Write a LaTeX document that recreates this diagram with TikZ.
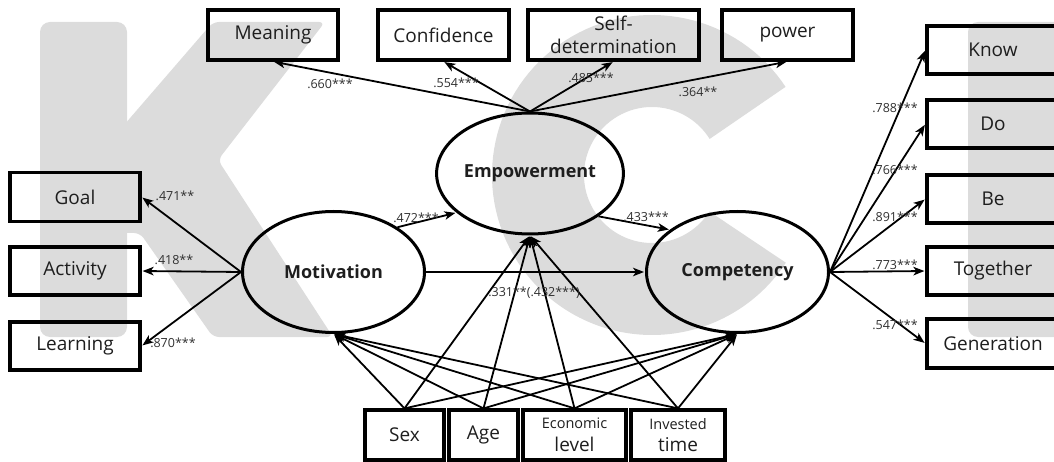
\documentclass[tikz,border=0pt]{standalone}
\usepackage{fontspec}
\setmainfont{Open Sans}
\usetikzlibrary{shapes.geometric,arrows.meta}
\definecolor{wmgray}{HTML}{DCDCDC}
\definecolor{ink}{HTML}{1E1E1E}
\definecolor{coef}{HTML}{303030}
\begin{document}
\begin{tikzpicture}[x=1pt,y=-1pt,
  box/.style={draw=black, line width=3.2pt, inner sep=0pt, text=ink,
    font=\fontsize{19}{23.5}\selectfont, align=center, minimum height=50pt},
  latent/.style={ellipse, draw=black, line width=3pt, minimum width=182pt,
    minimum height=121pt, inner sep=0pt, text=ink,
    font=\bfseries\fontsize{18}{22}\selectfont},
  arr/.style={-{Stealth[length=11pt,width=8.5pt,inset=3pt]}, line width=1.8pt, shorten >=1pt},
  coefl/.style={font=\fontsize{12.5}{14}\selectfont, text=coef, inner sep=0pt},
  wm/.style={fill=wmgray}]

\useasboundingbox (0,0) rectangle (1054,462);

% background lettering
\fill[wm, rounded corners=10pt] (40,22) rectangle (127,337);
\fill[wm, rounded corners=6pt] (118,132) -- (213,22) -- (325,22) -- (218,160)
  -- (333,337) -- (213,337) -- (140,233) -- (118,233) -- cycle;
\draw[wmgray, line width=92pt] (652,175) ++(-33:114) arc[start angle=-33, end angle=-327, radius=114];
\fill[wm, rounded corners=10pt] (968,22) rectangle (1070,337);

% latent variables
\node[latent] (emp)  at (530,173.5) {Empowerment};
\node[latent] (mot)  at (333.5,272) {Motivation};
\node[latent] (comp) at (737.5,272) {Competency};

% empowerment indicators
\node[box, minimum width=130pt] (meaning) at (273,35)   {Meaning};
\node[box, minimum width=131pt] (conf)    at (443.5,35) {Confidence};
\node[box, minimum width=171pt] (selfdet) at (613.5,35) {Self-\\determination};
\node[box, minimum width=131pt] (power)   at (787.5,35) {power};

% motivation indicators
\node[box, minimum width=130pt, minimum height=49pt] (goal)     at (75,197)   {Goal};
\node[box, minimum width=130pt, minimum height=48pt] (activity) at (75,271)   {Activity};
\node[box, minimum width=130pt, minimum height=48pt] (learning) at (75,346)   {Learning};

% competency indicators
\node[box, minimum width=132pt, minimum height=48pt] (know)     at (993,50)    {Know};
\node[box, minimum width=132pt, minimum height=48pt] (do)       at (993,124)   {Do};
\node[box, minimum width=132pt, minimum height=48pt] (be)       at (993,199)   {Be};
\node[box, minimum width=132pt, minimum height=48pt] (together) at (993,271)   {Together};
\node[box, minimum width=132pt, minimum height=49pt] (gen)      at (993,343.5) {Generation};

% control variables
\node[box, minimum width=79pt]  (sex) at (404.5,435) {Sex};
\node[box, minimum width=69pt]  (age) at (483.5,435) {Age};
\node[box, minimum width=103pt] (eco) at (574.5,435) {{\fontsize{14.5}{16}\selectfont Economic}\\[-1pt]level};
\node[box, minimum width=94pt]  (inv) at (678,435)   {{\fontsize{14.5}{16}\selectfont Invested}\\[-1pt]time};

% loadings
\draw[arr] (emp.north) -- (meaning.south);
\draw[arr] (emp.north) -- (conf.south);
\draw[arr] (emp.north) -- (selfdet.south);
\draw[arr] (emp.north) -- (power.south);
\draw[arr] (mot.west) -- (goal.east);
\draw[arr] (mot.west) -- (activity.east);
\draw[arr] (mot.west) -- (learning.east);
\draw[arr] (comp.east) -- (know.west);
\draw[arr] (comp.east) -- (do.west);
\draw[arr] (comp.east) -- (be.west);
\draw[arr] (comp.east) -- (together.west);
\draw[arr] (comp.east) -- (gen.west);

% structural paths
\draw[arr] (mot.35) -- (emp.208);
\draw[arr] (emp.-32) -- (comp.148);
\draw[arr] (mot.east) -- (comp.west);

% control paths
\foreach \c in {sex,age,eco,inv}{
  \draw[arr] (\c.north) -- (mot.south);
  \draw[arr] (\c.north) -- (emp.south);
  \draw[arr] (\c.north) -- (comp.south);
}

% coefficients
\node[coefl] (c1)  at (330,84)  {.660***};
\node[coefl] (c2)  at (456,83)  {.554***};
\node[coefl] (c3)  at (591,78)  {.485***};
\node[coefl] (c4)  at (698,92)  {.364**};
\node[coefl] (c5)  at (175,196) {.471**};
\node[coefl] (c6)  at (174,260) {.418**};
\node[coefl] (c7)  at (173,343) {.870***};
\node[coefl] (c8)  at (416,218) {.472***};
\node[coefl] (c9)  at (646,217) {.433***};
\node[coefl] (c10) at (534,293) {.331**(.432***)};
\node[coefl] (c11) at (895,108) {.788***};
\node[coefl] (c12) at (895,170) {.766***};
\node[coefl] (c13) at (895,217) {.891***};
\node[coefl] (c14) at (895,265) {.773***};
\node[coefl] (c15) at (895,325) {.547***};
\end{tikzpicture}
\end{document}
